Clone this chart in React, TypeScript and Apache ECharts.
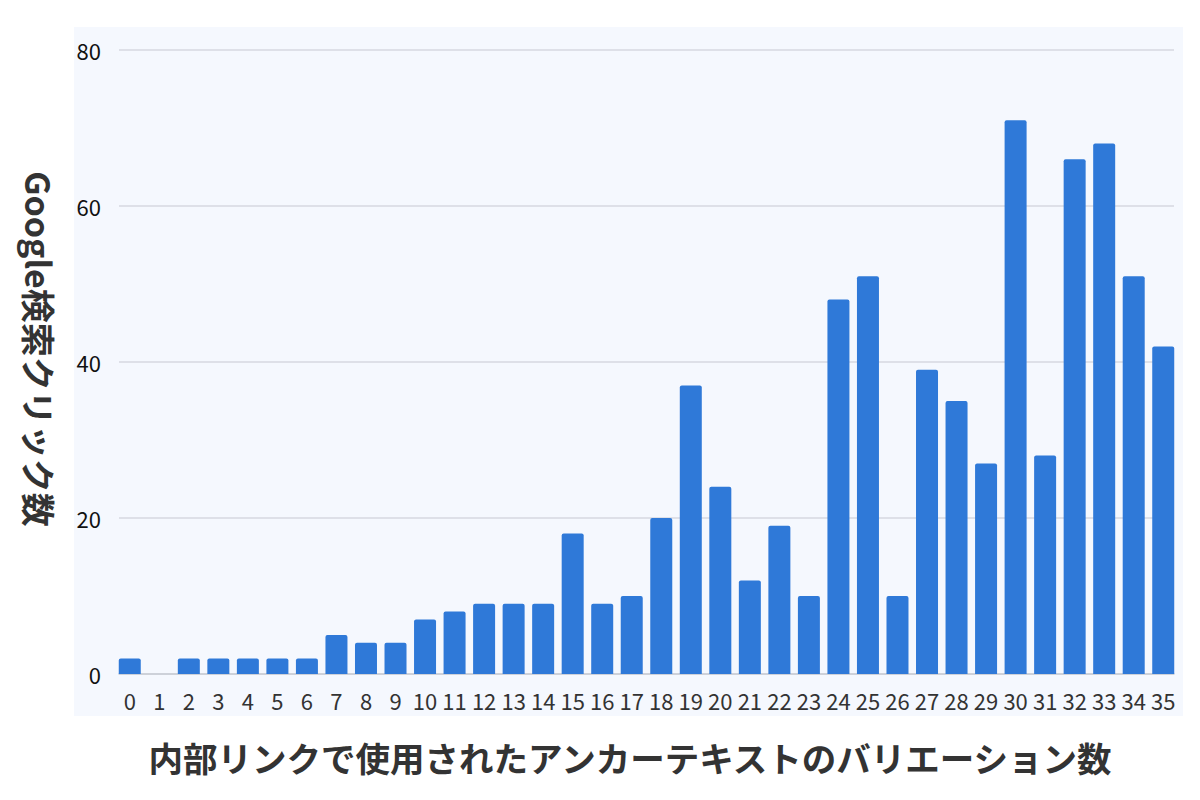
import React, { useEffect, useRef } from "react";
import * as echarts from "echarts";

const categories = [
  "0", "1", "2", "3", "4", "5", "6", "7", "8", "9",
  "10", "11", "12", "13", "14", "15", "16", "17", "18", "19",
  "20", "21", "22", "23", "24", "25", "26", "27", "28", "29",
  "30", "31", "32", "33", "34", "35",
];
const clicks = [
  2, 0, 2, 2, 2, 2, 2, 5, 4, 4,
  7, 8, 9, 9, 9, 18, 9, 10, 20, 37,
  24, 12, 19, 10, 48, 51, 10, 39, 35, 27,
  71, 28, 66, 68, 51, 42,
];
const yTicksMin = 0;
const yTicksMax = 80;
const yTickStep = 20;
const xTitle = "内部リンクで使用されたアンカーテキストのバリエーション数";
const yTitle = "Google検索クリック数";

const FONT = "'Noto Sans CJK JP', 'Noto Sans', sans-serif";

export default function App() {
  const ref = useRef<HTMLDivElement>(null);
  useEffect(() => {
    document.body.style.margin = "0";
    if (!ref.current) return;
    const chart = echarts.init(ref.current, null, { renderer: "svg" });
    chart.setOption({
      animation: false,
      backgroundColor: "#ffffff",
      textStyle: { fontFamily: FONT },
      grid: [
        { left: 119, right: 26, top: 50, bottom: 126 },
        { left: 115, right: 22, top: 50, bottom: 126 },
      ],
      graphic: [
        {
          type: "rect",
          z: -10,
          silent: true,
          shape: { x: 74, y: 27, width: 1109, height: 689 },
          style: { fill: "#f5f8fe" },
        },
        {
          type: "text",
          x: 630,
          y: 757,
          style: {
            text: xTitle,
            font: `bold 34.5px ${FONT}`,
            fill: "#333333",
            textAlign: "center",
            textVerticalAlign: "middle",
          },
        },
        {
          type: "text",
          x: 39,
          y: 349,
          rotation: -Math.PI / 2,
          style: {
            text: yTitle,
            font: `bold 34px ${FONT}`,
            fill: "#333333",
            textAlign: "center",
            textVerticalAlign: "middle",
          },
        },
      ],
      xAxis: [
        {
          type: "category",
          gridIndex: 0,
          data: categories,
          axisTick: { show: false },
          axisLabel: { show: false },
          axisLine: { show: true, lineStyle: { color: "#c8ccd4", width: 1.5 } },
          z: 1,
        },
        {
          type: "category",
          gridIndex: 1,
          data: categories,
          axisTick: { show: false },
          axisLine: { show: false },
          axisLabel: {
            interval: 0,
            margin: 15,
            fontSize: 22,
            color: "#333333",
            fontFamily: FONT,
          },
        },
      ],
      yAxis: [
        {
          type: "value",
          gridIndex: 0,
          min: yTicksMin,
          max: yTicksMax,
          interval: yTickStep,
          axisLine: { show: false },
          axisTick: { show: false },
          splitLine: { lineStyle: { color: "#d6d9e0", width: 1.5 } },
          axisLabel: {
            margin: 18,
            fontSize: 22,
            color: "#111111",
            fontFamily: FONT,
          },
        },
        {
          type: "value",
          gridIndex: 1,
          min: yTicksMin,
          max: yTicksMax,
          interval: yTickStep,
          show: false,
          splitLine: { show: false },
        },
      ],
      series: [
        {
          type: "bar",
          xAxisIndex: 1,
          yAxisIndex: 1,
          data: clicks,
          barCategoryGap: "25.5%",
          z: 3,
          itemStyle: { color: "#2f79d8", borderRadius: [2, 2, 0, 0] },
        },
      ],
    });
    return () => chart.dispose();
  }, []);
  return <div ref={ref} style={{ width: 1200, height: 800 }} />;
}
